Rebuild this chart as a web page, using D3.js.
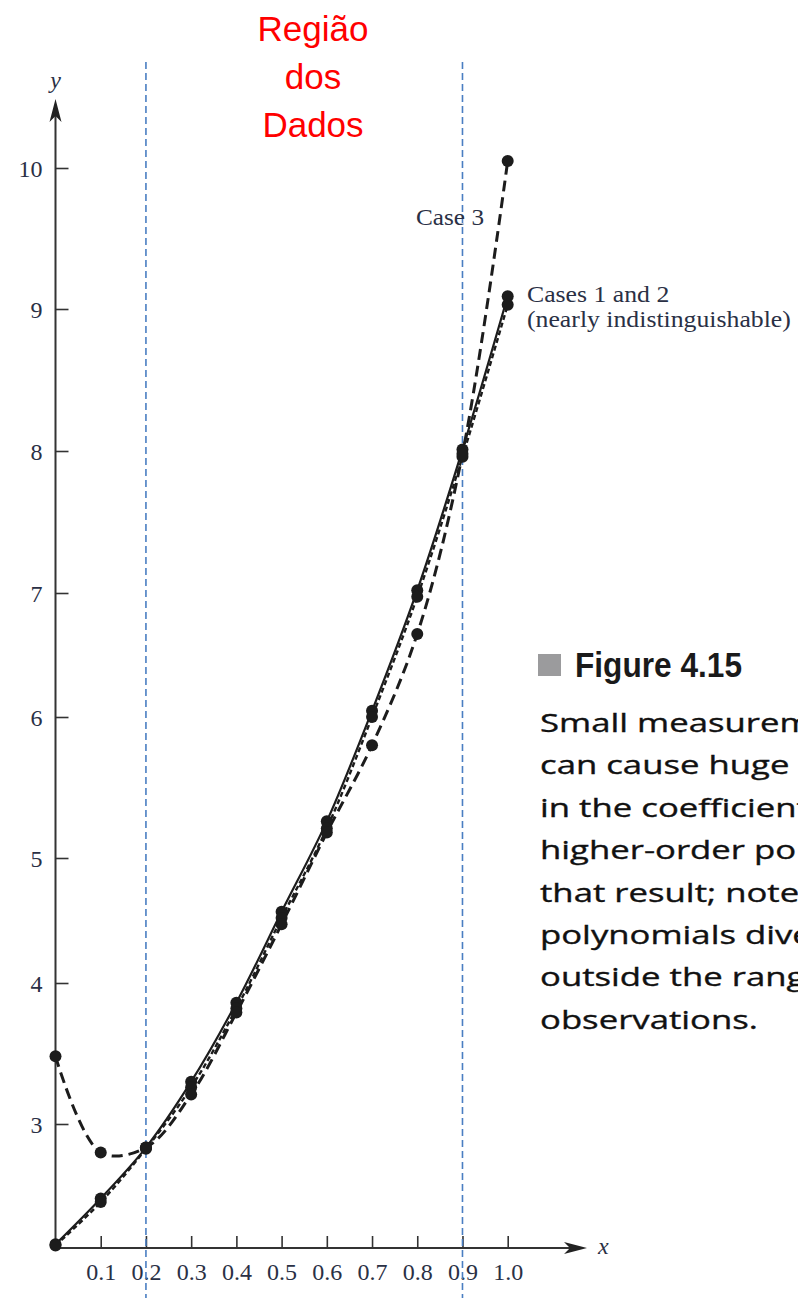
<!DOCTYPE html>
<html>
<head>
<meta charset="utf-8">
<script src="https://cdn.jsdelivr.net/npm/d3@7"></script>
<style>
  html, body { margin: 0; padding: 0; background: #fff; }
  svg { display: block; }
</style>
</head>
<body>
<script>
// Observation points (x) and the fitted-polynomial values for each case
const xValues = [0, 0.1, 0.2, 0.3, 0.4, 0.5, 0.6, 0.7, 0.8, 0.9, 1.0];
const case1 = [2.03, 2.40, 2.81, 3.30, 3.86, 4.57, 5.26, 6.05, 7.02, 8.01, 9.09];
const case2 = [2.02, 2.37, 2.80, 3.26, 3.82, 4.52, 5.21, 6.00, 6.97, 7.96, 9.03];
const case3 = [3.48, 2.77, 2.81, 3.21, 3.79, 4.47, 5.18, 5.80, 6.67, 7.98, 10.05];

const xTicks = [0.1, 0.2, 0.3, 0.4, 0.5, 0.6, 0.7, 0.8, 0.9, 1.0];
const yTicks = [3, 4, 5, 6, 7, 8, 9, 10];
const dataRegion = [0.2, 0.9];

const regionTitle = ["Região", "dos", "Dados"];
const figureLabel = "Figure 4.15";
const captionLines = [
  "Small measurement errors",
  "can cause huge differences",
  "in the coefficients of the",
  "higher-order polynomials",
  "that result; note that the",
  "polynomials diverge",
  "outside the range of",
  "observations."
];

const W = 798, H = 1298;
const svg = d3.select("body").append("svg")
  .attr("width", W).attr("height", H)
  .attr("viewBox", `0 0 ${W} ${H}`);
svg.append("rect").attr("width", W).attr("height", H).attr("fill", "#fff");

// Scales: the y axis of the printed figure has slightly uneven tick spacing,
// so the vertical scale is piecewise linear through the tick levels.
const x = d3.scaleLinear().domain([0, 1]).range([55.5, 507.7]);
const y = d3.scaleLinear()
  .domain([2, 3, 4, 5, 6, 7, 8, 9, 10])
  .range([1248, 1124, 983, 858, 717, 593, 451, 309, 168]);

const ink = "#1c1c1c";
const labelInk = "#2a3045";
const serif = "'Liberation Serif', 'Times New Roman', serif";

// Axes
const axisG = svg.append("g").attr("stroke", "#333").attr("stroke-width", 2);
axisG.append("line").attr("x1", x(0)).attr("x2", 578).attr("y1", y(2)).attr("y2", y(2));
axisG.append("line").attr("x1", x(0)).attr("x2", x(0)).attr("y1", y(2)).attr("y2", 112);
// arrow heads
svg.append("path")
  .attr("d", `M${x(0)},99 L${x(0) - 6},122 L${x(0)},116 L${x(0) + 6},122 Z`)
  .attr("fill", "#222");
svg.append("path")
  .attr("d", `M587,${y(2)} L564,${y(2) - 6} L570,${y(2)} L564,${y(2) + 6} Z`)
  .attr("fill", "#222");

// Tick marks and labels
const xAxis = d3.axisBottom(x).tickValues(xTicks).tickSize(0).tickFormat(d3.format(".1f"));
const gx = svg.append("g").attr("transform", `translate(0,${y(2)})`).call(xAxis);
gx.select(".domain").remove();
gx.selectAll(".tick text")
  .attr("y", 32).attr("dy", 0)
  .attr("font-family", serif).attr("font-size", 24).attr("fill", labelInk);
gx.selectAll(".tick").append("line")
  .attr("y1", 0).attr("y2", -12).attr("stroke", "#333").attr("stroke-width", 1.6);

const yAxis = d3.axisLeft(y).tickValues(yTicks).tickSize(0).tickFormat(d3.format("d"));
const gy = svg.append("g").attr("transform", `translate(${x(0)},0)`).call(yAxis);
gy.select(".domain").remove();
gy.selectAll(".tick text")
  .attr("x", -13).attr("dy", "0.34em")
  .attr("font-family", serif).attr("font-size", 24).attr("fill", labelInk);
gy.selectAll(".tick").append("line")
  .attr("x1", 0).attr("x2", 13).attr("stroke", "#333").attr("stroke-width", 1.6);

svg.append("text").attr("x", x(0)).attr("y", 88)
  .attr("text-anchor", "middle").attr("font-family", serif)
  .attr("font-style", "italic").attr("font-size", 24).attr("fill", labelInk).text("y");
svg.append("text").attr("x", 598).attr("y", y(2) + 6)
  .attr("font-family", serif).attr("font-style", "italic")
  .attr("font-size", 24).attr("fill", labelInk).text("x");

// Data-region boundaries
svg.append("g").selectAll("line").data(dataRegion).join("line")
  .attr("x1", d => x(d)).attr("x2", d => x(d))
  .attr("y1", 62).attr("y2", H)
  .attr("stroke", "#4a7ec2").attr("stroke-width", 1.6)
  .attr("stroke-dasharray", "7,4");

// Curves
const pts = arr => xValues.map((v, i) => [v, arr[i]]);
const line = d3.line().x(d => x(d[0])).y(d => y(d[1])).curve(d3.curveCatmullRom.alpha(0.5));

const series = [
  { vals: case1, dash: null, width: 2.2 },
  { vals: case2, dash: "5,3", width: 2.4 },
  { vals: case3, dash: "11,6", width: 3 }
];
series.forEach(s => {
  svg.append("path").datum(pts(s.vals))
    .attr("d", line).attr("fill", "none")
    .attr("stroke", ink).attr("stroke-width", s.width)
    .attr("stroke-dasharray", s.dash);
});
series.forEach(s => {
  svg.append("g").selectAll("circle").data(pts(s.vals)).join("circle")
    .attr("cx", d => x(d[0])).attr("cy", d => y(d[1]))
    .attr("r", 6).attr("fill", ink);
});

// Curve annotations
svg.append("text").attr("x", 416).attr("y", 225)
  .attr("font-family", serif).attr("font-size", 24).attr("fill", labelInk)
  .attr("textLength", 68).attr("lengthAdjust", "spacingAndGlyphs").text("Case 3");
const ann = svg.append("text").attr("font-family", serif).attr("font-size", 23)
  .attr("fill", labelInk)
  .attr("transform", "translate(527,0) scale(1.12,1)");
ann.append("tspan").attr("x", 0).attr("y", 302).text("Cases 1 and 2");
ann.append("tspan").attr("x", 0).attr("y", 327).text("(nearly indistinguishable)");

// Region title
const title = svg.append("text")
  .attr("font-family", "'Liberation Sans', Arial, sans-serif")
  .attr("font-size", 35).attr("fill", "#ff0000").attr("text-anchor", "middle");
regionTitle.forEach((t, i) => {
  title.append("tspan").attr("x", 313).attr("y", 41 + i * 48).text(t);
});

// Figure caption
svg.append("rect").attr("x", 538).attr("y", 654).attr("width", 23).attr("height", 22).attr("fill", "#9b9b9d");
svg.append("text").attr("x", 575).attr("y", 677)
  .attr("font-family", "'Liberation Sans', Arial, sans-serif")
  .attr("font-weight", "bold").attr("font-size", 35)
  .attr("textLength", 167).attr("lengthAdjust", "spacingAndGlyphs")
  .attr("fill", "#1a1a1a").text(figureLabel);

const cap = svg.append("g");
const capText = cap.append("text")
  .attr("font-family", "'Open Sans', 'Liberation Sans', sans-serif")
  .attr("font-size", 25).attr("fill", "#111")
  .attr("stroke", "#111").attr("stroke-width", 0.35);
captionLines.forEach((t, i) => {
  capText.append("tspan").attr("x", 0).attr("y", i * 42.4).text(t);
});
const lastSpan = capText.selectAll("tspan").nodes().pop();
const stretch = 218 / lastSpan.getComputedTextLength();
cap.attr("transform", `translate(540,732) scale(${stretch},1)`);
</script>
</body>
</html>
